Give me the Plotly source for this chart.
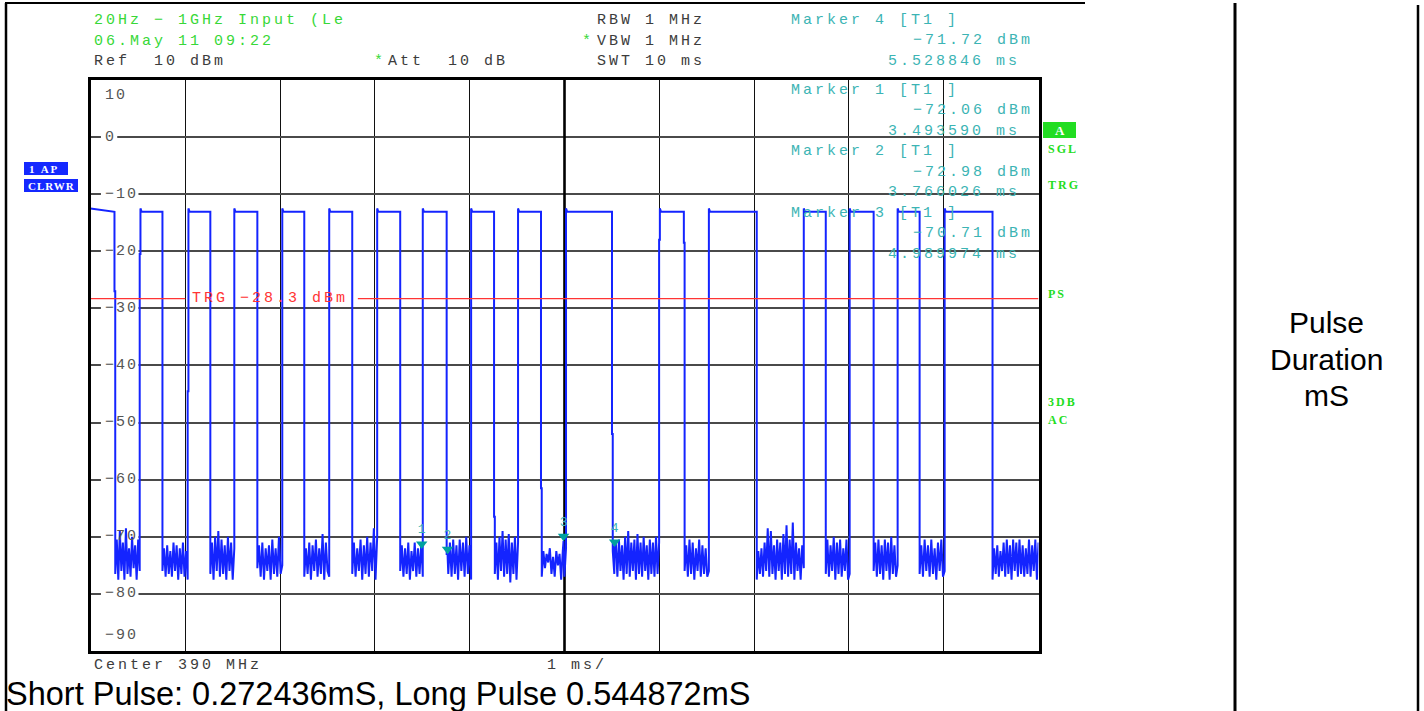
import numpy as np
import plotly.graph_objects as go

W, H = 1424, 711
MONO = "Liberation Mono"
SERIF = "Liberation Serif"
SANS = "Liberation Sans"

# ---- sweep settings -------------------------------------------------------
sweep_ms = 10.0
ref_level_dbm = 10.0
bottom_level_dbm = -90.0
trigger_dbm = -28.3

# ---- pulse train: transition times (ms); trace starts in the "on" state ----
edges_ms = [0.253, 0.527, 0.759, 1.033, 1.264, 1.517, 1.760, 2.023, 2.255, 2.518,
            2.761, 3.024, 3.267, 3.505, 3.757, 4.015, 4.257, 4.510, 4.752, 5.016,
            5.501, 6.006, 6.259, 6.523, 7.028, 7.524, 7.756, 8.008, 8.261, 8.514,
            8.746, 9.010, 9.515]
pulse_top_dbm = -13.1
pulse_peak_dbm = -12.5
# samples caught half-way through an edge (edge index -> level)
edge_dip_dbm = {0: -27.0, 1: -20.5, 3: -44.5, 16: -66.5, 18: -61.5,
                20: -52.0, 21: -18.0, 22: -18.5}

# ---- noise floor samples for each "off" gap (dBm) --------------------------
noise_floor_dbm = [
    [-76.5, -70.5, -77.5, -69.0, -76.0, -71.0, -77.5, -68.5, -76.5, -72.0, -77.0, -70.0, -75.5, -71.5, -77.5, -70.5, -76.0],
    [-76.0, -72.0, -77.0, -71.5, -76.5, -72.5, -77.0, -71.0, -76.0, -71.5, -77.5, -72.0, -76.5, -71.0, -77.0, -72.5, -77.5],
    [-76.5, -71.0, -77.5, -70.0, -76.0, -69.0, -77.0, -70.5, -76.5, -71.5, -77.5, -70.0, -76.0, -71.0, -77.5, -72.0],
    [-75.5, -71.5, -77.0, -71.0, -77.5, -72.0, -76.0, -71.5, -77.5, -70.5, -76.5, -72.0, -77.0, -70.0, -76.5, -75.0],
    [-77.0, -72.0, -76.5, -71.0, -77.5, -71.5, -76.0, -70.5, -77.0, -72.0, -76.5, -69.5, -77.5, -71.0, -76.0, -77.0],
    [-76.5, -71.0, -77.0, -72.0, -76.0, -70.5, -77.5, -71.5, -76.5, -70.0, -77.0, -71.0, -76.0, -68.5, -77.5, -70.0],
    [-76.0, -71.5, -77.0, -72.0, -76.5, -71.0, -77.5, -72.5, -76.0, -71.0, -77.0, -72.0, -76.5, -71.5, -77.0],
    [-73.0, -76.5, -71.0, -77.0, -70.5, -76.5, -71.5, -77.5, -70.5, -76.0, -71.0, -77.0, -70.0, -76.5, -71.5, -77.5],
    [-76.5, -71.0, -77.5, -70.0, -76.0, -69.0, -77.0, -70.5, -76.5, -69.5, -78.0, -71.0, -76.5, -70.0, -77.5, -71.0],
    [-77.0, -72.5, -75.5, -73.0, -74.5, -72.0, -76.5, -73.5, -77.0, -72.5, -75.0, -73.0, -77.5, -72.5, -77.0, -72.0],
    [-72.5, -76.5, -71.0, -77.0, -70.5, -76.0, -71.5, -77.5, -70.0, -76.5, -69.0, -77.0, -71.0, -76.0, -70.5, -77.5,
     -69.5, -76.5, -71.0, -77.0, -70.0, -76.0, -71.5, -77.5, -70.5, -76.5, -71.0, -77.0, -70.0, -76.5, -71.0],
    [-76.0, -71.5, -77.0, -70.5, -76.5, -71.0, -77.5, -72.0, -76.0, -70.5, -77.0, -71.5, -76.5, -72.0, -77.0, -76.0],
    [-77.5, -72.5, -76.5, -72.0, -77.0, -71.0, -76.0, -68.5, -77.0, -69.0, -76.5, -71.5, -77.5, -70.5, -76.0, -71.0,
     -77.5, -69.5, -76.5, -68.0, -77.0, -70.5, -76.5, -67.5, -77.5, -71.0, -76.0, -72.0, -77.5, -71.5, -75.5],
    [-76.5, -70.5, -77.0, -71.5, -76.0, -70.0, -77.5, -71.0, -76.5, -70.5, -77.0, -72.0, -76.0, -70.5, -77.5, -76.5],
    [-76.0, -71.0, -77.0, -70.5, -76.5, -71.5, -77.5, -70.5, -76.0, -71.0, -77.5, -70.0, -76.5, -71.5, -77.0, -75.0],
    [-76.5, -71.5, -77.0, -70.5, -76.0, -71.5, -77.0, -70.5, -76.5, -72.0, -77.5, -71.0, -76.0, -70.5, -77.0, -76.0],
    [-77.5, -72.0, -76.5, -71.5, -77.0, -72.5, -76.0, -71.0, -77.0, -70.5, -76.5, -71.5, -77.5, -70.5, -76.0, -71.0,
     -77.0, -70.5, -76.5, -71.5, -77.0, -72.0, -76.5, -70.5, -77.0, -71.5, -76.0, -70.5, -77.5, -71.0],
]

# ---- markers ---------------------------------------------------------------
marker_ids = ["1", "2", "3", "4"]
marker_ms = [3.493590, 3.766026, 4.989974, 5.528846]
marker_dbm = [-72.06, -72.98, -70.71, -71.72]

level_ticks = list(range(10, -91, -10))

# ---- build trace -----------------------------------------------------------
dip_w = 0.008
bounds = [0.0] + edges_ms + [sweep_ms]
tr_t, tr_y = [], []
low_idx = 0
for seg in range(len(bounds) - 1):
    a, b = bounds[seg], bounds[seg + 1]
    if seg % 2 == 0:
        if seg == 0:
            tr_t += [a]
            tr_y += [pulse_peak_dbm]
        else:
            tr_t += [a, a + 0.012]
            tr_y += [pulse_peak_dbm, pulse_top_dbm]
        tr_t.append(b)
        tr_y.append(pulse_top_dbm)
    else:
        fall, rise = seg - 1, seg
        t0, t1 = a, b
        if fall in edge_dip_dbm:
            d = edge_dip_dbm[fall]
            tr_t += [a, a + dip_w]
            tr_y += [d, d]
            t0 = a + dip_w
        has_rise_dip = rise in edge_dip_dbm and rise < len(edges_ms)
        if has_rise_dip:
            t1 = b - dip_w
        vals = noise_floor_dbm[low_idx]
        pts = list(zip(np.linspace(t0, t1, len(vals)), vals))
        pts += [(m, v) for m, v in zip(marker_ms, marker_dbm) if a < m < b]
        pts.sort()
        tr_t += [p[0] for p in pts]
        tr_y += [p[1] for p in pts]
        if has_rise_dip:
            d = edge_dip_dbm[rise]
            tr_t += [t1, b]
            tr_y += [d, d]
        low_idx += 1

BLUE = "#1424ff"
GREEN = "#38d838"
GRAY = "#3c3c3c"
TEAL = "#3cb4b4"
TRI = "#00a0a0"
RED = "#ff3434"

fig = go.Figure()

fig.add_trace(go.Scatter(x=tr_t, y=tr_y, mode="lines",
                         line=dict(color=BLUE, width=2.0), hoverinfo="skip"))

# trigger level line, interrupted by its label
fig.add_trace(go.Scatter(x=[0, 1.0, None, 2.82, sweep_ms],
                         y=[trigger_dbm, trigger_dbm, None, trigger_dbm, trigger_dbm],
                         mode="lines", line=dict(color=RED, width=1.3), hoverinfo="skip"))

# marker triangles (tip on the marker level) with their numbers
tip_offset = 0.8
fig.add_trace(go.Scatter(x=marker_ms, y=[v + tip_offset for v in marker_dbm],
                         mode="markers+text", text=marker_ids, textposition="top center",
                         textfont=dict(family=MONO, size=13, color=TEAL),
                         marker=dict(symbol="triangle-down", size=10, color=TRI),
                         hoverinfo="skip"))

x0p, x1p = 90.5, 1038.5
y0p, y1p = 79.9, 651.0

fig.update_layout(
    width=W, height=H, margin=dict(l=0, r=0, t=0, b=0),
    paper_bgcolor="white", plot_bgcolor="white", showlegend=False,
    xaxis=dict(domain=[x0p / W, x1p / W], range=[0, sweep_ms], dtick=1, tick0=0,
               showgrid=True, gridcolor="#111111", gridwidth=1.2,
               showline=True, mirror=True, linecolor="black", linewidth=3,
               showticklabels=False, ticks="", zeroline=False, fixedrange=True),
    yaxis=dict(domain=[1 - y1p / H, 1 - y0p / H], range=[bottom_level_dbm, ref_level_dbm],
               dtick=10, tick0=0, showgrid=True, gridcolor="#4a4a4a", gridwidth=1.5,
               showline=True, mirror=True, linecolor="black", linewidth=3,
               showticklabels=False, ticks="", zeroline=False, fixedrange=True),
)

shapes = []
# centre division line
shapes.append(dict(type="line", xref="x", yref="y", x0=sweep_ms / 2, x1=sweep_ms / 2,
                   y0=bottom_level_dbm, y1=ref_level_dbm, layer="between",
                   line=dict(color="black", width=2.6)))

annotations = []


def spaced(s, ls):
    return f'<span style="letter-spacing:{ls}px">{s}</span>'


def ptxt(x, y, s, color, size=15, anchor="left", ls=3, family=MONO):
    annotations.append(dict(x=x / W, y=1 - y / H, xref="paper", yref="paper",
                            text=spaced(s, ls) if ls else s, showarrow=False,
                            xanchor=anchor, yanchor="middle",
                            font=dict(family=family, size=size, color=color)))


def fmt_level(v):
    return f"{v:.2f} dBm".replace("-", "\u2212")


# level labels inside the grid
for lv in level_ticks:
    lab = str(lv).replace("-", "\u2212")
    if lv == ref_level_dbm:
        ya, ys = "top", -5
    elif lv == bottom_level_dbm:
        ya, ys = "bottom", 5
    else:
        ya, ys = "middle", 0
        shapes.append(dict(type="rect", xref="x", yref="y", x0=0.11,
                           x1=0.17 + 0.112 * len(lab), y0=lv - 1.1, y1=lv + 1.1,
                           layer="between", fillcolor="white", line=dict(width=0)))
    annotations.append(dict(x=0.13, y=lv, xref="x", yref="y", text=spaced(lab, 2),
                            showarrow=False, xanchor="left", yanchor=ya, yshift=ys,
                            font=dict(family=MONO, size=15, color="#555555")))

# trigger label
annotations.append(dict(x=1.05, y=trigger_dbm, xref="x", yref="y",
                        text=spaced(f"TRG {trigger_dbm:.1f} dBm".replace("-", "\u2212"), 3),
                        showarrow=False, xanchor="left", yanchor="middle",
                        font=dict(family=MONO, size=15, color=RED)))

# header block
ptxt(92, 20, "20Hz \u2212 1GHz Input (Le", GREEN)
ptxt(92, 41, "06.May 11 09:22", GREEN)
ptxt(92, 62, "Ref  10 dBm", GRAY)
ptxt(372, 62, "*", GREEN, ls=0)
ptxt(386, 62, "Att  10 dB", GRAY)
ptxt(595, 20, "RBW 1 MHz", GRAY)
ptxt(580, 41, "*", GREEN, ls=0)
ptxt(595, 41, "VBW 1 MHz", GRAY)
ptxt(595, 62, "SWT 10 ms", GRAY)

# marker readouts: marker 4 in the header, markers 1-3 inside the grid
marker_rows = [(3, 20), (0, 90), (1, 152), (2, 213)]
for idx, yrow in marker_rows:
    ptxt(789, yrow, f"Marker {marker_ids[idx]} [T1 ]", TEAL)
    ptxt(1035, yrow + 20.5, fmt_level(marker_dbm[idx]), TEAL, anchor="right")
    ptxt(1022, yrow + 41, f"{marker_ms[idx]:.6f} ms", TEAL, anchor="right")

# footer of the analyser screen
ptxt(92, 665, "Center 390 MHz", GRAY)
ptxt(545, 665, "1 ms/", GRAY)

# trace badges on the left
shapes.append(dict(type="rect", xref="paper", yref="paper", x0=24 / W, x1=68 / W,
                   y0=1 - 175 / H, y1=1 - 162 / H, fillcolor="#1428ff", line=dict(width=0)))
shapes.append(dict(type="rect", xref="paper", yref="paper", x0=24 / W, x1=78 / W,
                   y0=1 - 192 / H, y1=1 - 179 / H, fillcolor="#1428ff", line=dict(width=0)))
ptxt(27, 169, "<b>1 AP</b>", "white", size=11, ls=2, family=SERIF)
ptxt(26, 186, "<b>CLRWR</b>", "white", size=11, ls=1, family=SERIF)

# status flags on the right
shapes.append(dict(type="rect", xref="paper", yref="paper", x0=1043 / W, x1=1076 / W,
                   y0=1 - 138 / H, y1=1 - 122 / H, fillcolor="#22dd22", line=dict(width=0)))
annotations.append(dict(x=1060 / W, y=1 - 130 / H, xref="paper", yref="paper",
                        text="<b>A</b>", showarrow=False, xanchor="center", yanchor="middle",
                        font=dict(family=SERIF, size=13, color="white")))
for lab, yy in [("SGL", 149), ("TRG", 185), ("PS", 294), ("3DB", 402), ("AC", 420)]:
    ptxt(1046, yy, f"<b>{lab}</b>", "#22dd22", size=12, ls=2, family=SERIF)

# caption and side column
ptxt(4, 694, "Short Pulse: 0.272436mS, Long Pulse 0.544872mS", "black", size=32.5, ls=0, family=SANS)
for word, yy in [("Pulse", 323), ("Duration", 359), ("mS", 395)]:
    annotations.append(dict(x=1326 / W, y=1 - yy / H, xref="paper", yref="paper", text=word,
                            showarrow=False, xanchor="center", yanchor="middle",
                            font=dict(family=SANS, size=30, color="black")))

# table rules
for (xa, ya_, xb, yb, w) in [(5, 3, 1085, 3, 2), (6, 3, 6, 711, 2.5),
                             (1235, 3, 1235, 711, 3), (1418, 5, 1418, 711, 2.5)]:
    shapes.append(dict(type="line", xref="paper", yref="paper", x0=xa / W, x1=xb / W,
                       y0=1 - ya_ / H, y1=1 - yb / H, line=dict(color="black", width=w)))

fig.update_layout(shapes=shapes, annotations=annotations)
fig.write_html("out.html", config={"displayModeBar": False})
